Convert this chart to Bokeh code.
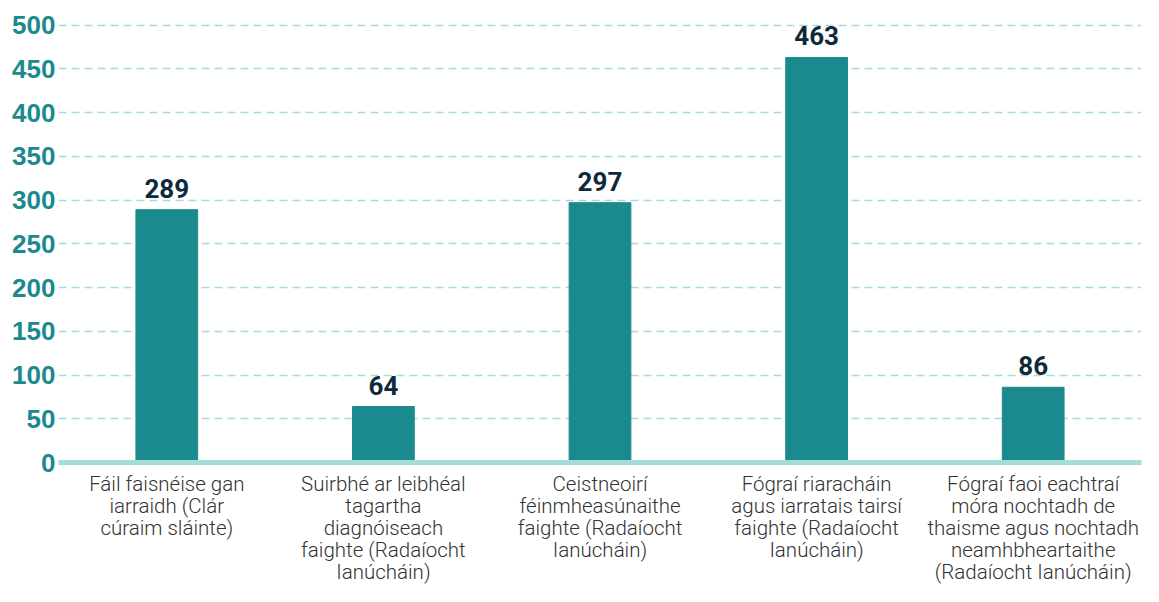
from bokeh.plotting import figure
from bokeh.models import FixedTicker, ColumnDataSource
from bokeh.core.properties import value
from bokeh.embed import file_html
from bokeh.resources import INLINE

categories = [
    "Fáil faisnéise gan\niarraidh (Clár\ncúraim sláinte)",
    "Suirbhé ar leibhéal\ntagartha\ndiagnóiseach\nfaighte (Radaíocht\nIanúcháin)",
    "Ceistneoirí\nféinmheasúnaithe\nfaighte (Radaíocht\nIanúcháin)",
    "Fógraí riaracháin\nagus iarratais tairsí\nfaighte (Radaíocht\nIanúcháin)",
    "Fógraí faoi eachtraí\nmóra nochtadh de\nthaisme agus nochtadh\nneamhbheartaithe\n(Radaíocht Ianúcháin)",
]
values = [289, 64, 297, 463, 86]
y_ticks = [0, 50, 100, 150, 200, 250, 300, 350, 400, 450, 500]

BAR = "#1b8a8f"
LIGHT = "#a6dcd8"

src = ColumnDataSource(dict(cat=categories, val=values, lab=[str(v) for v in values]))

p = figure(
    x_range=categories, y_range=(0, 503),
    width=1143, height=586,
    output_backend="svg", toolbar_location=None,
    min_border_left=58, min_border_right=2, min_border_top=22, min_border_bottom=10,
)
p.outline_line_color = None
p.background_fill_color = "white"
p.x_range.range_padding = 0.0

p.vbar(x="cat", top="val", width=0.285, source=src, color=BAR)
p.text(x="cat", y="val", text="lab", source=src, text_align="center",
       text_baseline="bottom", y_offset=-12, text_font=value("Roboto"),
       text_font_style="bold", text_font_size="26px", text_color="#0e2a3a")

p.xgrid.grid_line_color = None
p.ygrid.grid_line_color = LIGHT
p.ygrid.grid_line_dash = "8 5"
p.ygrid.grid_line_width = 1.5
p.ygrid.ticker = FixedTicker(ticks=y_ticks[1:])

p.yaxis.ticker = FixedTicker(ticks=y_ticks)
p.yaxis.axis_line_color = None
p.yaxis.major_tick_line_color = None
p.yaxis.minor_tick_line_color = None
p.yaxis.major_tick_in = 0
p.yaxis.major_tick_out = 0
p.yaxis.major_label_standoff = 3
p.yaxis.major_label_text_font = "Liberation Sans"
p.yaxis.major_label_text_font_style = "bold"
p.yaxis.major_label_text_font_size = "26px"
p.yaxis.major_label_text_color = BAR

p.xaxis.axis_line_color = LIGHT
p.xaxis.axis_line_width = 5
p.xaxis.major_tick_line_color = None
p.xaxis.minor_tick_line_color = None
p.xaxis.major_tick_in = 0
p.xaxis.major_tick_out = 0
p.xaxis.major_label_standoff = 9
p.xaxis.major_label_text_font = "Roboto Light"
p.xaxis.major_label_text_font_size = "20.5px"
p.xaxis.major_label_text_color = "#333333"
p.xaxis.major_label_text_line_height = 0.92

open("out.html", "w").write(file_html(p, INLINE))
